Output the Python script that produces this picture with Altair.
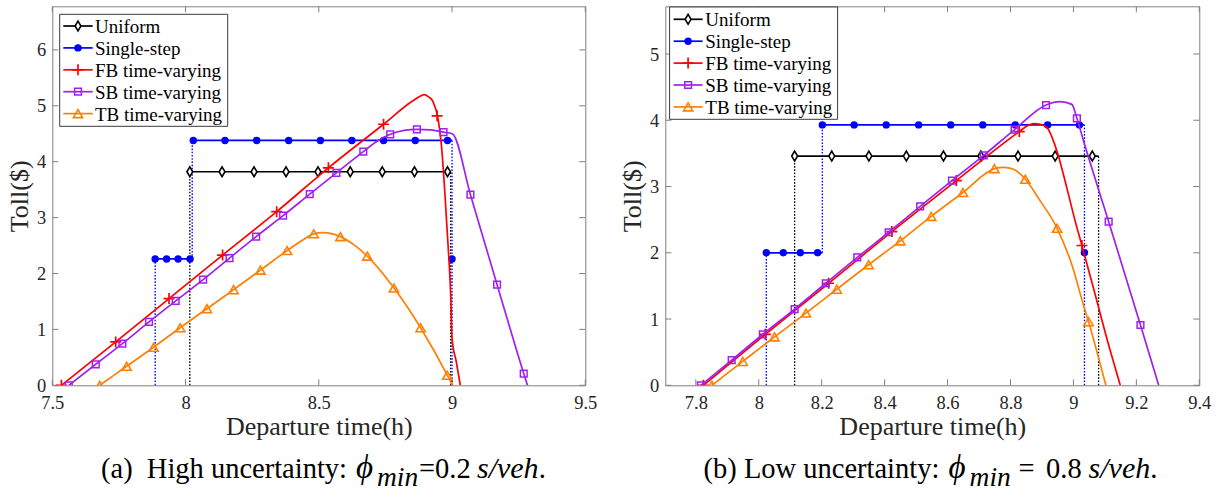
import altair as alt
import pandas as pd

FONT = "Liberation Serif"
NAMES = ["Uniform", "Single-step", "FB time-varying", "SB time-varying", "TB time-varying"]
COLORS = ["#000000", "#0000FF", "#FF0000", "#A020F0", "#FF8000"]

# ---------------- Panel (a): high uncertainty ----------------
a_xticks = [7.5, 8, 8.5, 9, 9.5]
a_yticks = [0, 1, 2, 3, 4, 5, 6]
a_xdomain = [7.5, 9.5]
a_ydomain = [0, 6.78]

a_uni_x = [8.016, 8.995]
a_uni_y = [3.82, 3.82]
a_uni_mx = [8.016, 8.137, 8.257, 8.377, 8.497, 8.618, 8.738, 8.859, 8.983]
a_uni_my = [3.82, 3.82, 3.82, 3.82, 3.82, 3.82, 3.82, 3.82, 3.82]
a_uni_drop_x = [8.016, 8.995]
a_uni_drop_lo = [0, 0]
a_uni_drop_hi = [3.82, 3.82]

a_ss_lo_x = [7.886, 8.025]
a_ss_lo_y = [2.26, 2.26]
a_ss_hi_x = [8.025, 9.0]
a_ss_hi_y = [4.38, 4.38]
a_ss_mx = [7.886, 7.929, 7.972, 8.017, 8.029, 8.148, 8.267, 8.387, 8.506, 8.624, 8.743, 8.862, 8.983, 9.0]
a_ss_my = [2.26, 2.26, 2.26, 2.26, 4.38, 4.38, 4.38, 4.38, 4.38, 4.38, 4.38, 4.38, 4.38, 2.26]
a_ss_drop_x = [7.886, 8.025, 9.0]
a_ss_drop_lo = [0, 2.26, 0]
a_ss_drop_hi = [2.26, 4.38, 4.38]

a_fb_x = [7.534, 7.738, 7.938, 8.139, 8.342, 8.536, 8.743, 8.85, 8.88, 8.895, 8.912, 8.928,
          8.947, 8.960, 8.972, 8.985, 8.995, 9.0, 9.016, 9.031]
a_fb_y = [0, 0.776, 1.552, 2.33, 3.106, 3.89, 4.67, 5.08, 5.17, 5.20, 5.16, 5.08,
          4.78, 4.30, 3.52, 2.51, 1.61, 0.835, 0.42, 0]
a_fb_mx = [7.534, 7.738, 7.938, 8.139, 8.342, 8.536, 8.743, 8.944]
a_fb_my = [0, 0.776, 1.552, 2.33, 3.106, 3.89, 4.67, 4.82]

a_sb_x = [7.562, 7.663, 7.763, 7.863, 7.963, 8.066, 8.165, 8.265, 8.366, 8.466, 8.566, 8.667,
          8.72, 8.768, 8.82, 8.868, 8.92, 8.968, 9.001, 9.069, 9.169, 9.269, 9.283]
a_sb_y = [0, 0.376, 0.746, 1.134, 1.51, 1.89, 2.276, 2.66, 3.035, 3.42, 3.80, 4.18,
          4.37, 4.49, 4.56, 4.58, 4.57, 4.53, 4.50, 3.41, 1.80, 0.21, 0]
a_sb_mx = [7.562, 7.663, 7.763, 7.863, 7.963, 8.066, 8.165, 8.265, 8.366, 8.466, 8.566, 8.667,
           8.768, 8.868, 8.968, 9.069, 9.169, 9.269]
a_sb_my = [0, 0.376, 0.746, 1.134, 1.51, 1.89, 2.276, 2.66, 3.035, 3.42, 3.80, 4.18,
           4.49, 4.58, 4.53, 3.41, 1.80, 0.21]

a_tb_x = [7.678, 7.779, 7.880, 7.980, 8.080, 8.180, 8.281, 8.381, 8.44, 8.481, 8.515, 8.581,
          8.63, 8.682, 8.782, 8.882, 8.982, 9.001]
a_tb_y = [0, 0.34, 0.68, 1.03, 1.37, 1.71, 2.06, 2.41, 2.60, 2.71, 2.73, 2.66,
          2.52, 2.31, 1.74, 1.03, 0.18, 0]
a_tb_mx = [7.678, 7.779, 7.880, 7.980, 8.080, 8.180, 8.281, 8.381, 8.481, 8.581, 8.682, 8.782, 8.882, 8.982]
a_tb_my = [0, 0.34, 0.68, 1.03, 1.37, 1.71, 2.06, 2.41, 2.71, 2.66, 2.31, 1.74, 1.03, 0.18]

# ---------------- Panel (b): low uncertainty ----------------
b_xticks = [7.8, 8, 8.2, 8.4, 8.6, 8.8, 9, 9.2, 9.4]
b_yticks = [0, 1, 2, 3, 4, 5]
b_xdomain = [7.703, 9.4]
b_ydomain = [0, 5.72]

b_uni_x = [8.114, 9.08]
b_uni_y = [3.46, 3.46]
b_uni_mx = [8.114, 8.232, 8.350, 8.469, 8.587, 8.706, 8.824, 8.942, 9.060]
b_uni_my = [3.46, 3.46, 3.46, 3.46, 3.46, 3.46, 3.46, 3.46, 3.46]
b_uni_drop_x = [8.114, 9.08]
b_uni_drop_lo = [0, 0]
b_uni_drop_hi = [3.46, 3.46]

b_ss_lo_x = [8.024, 8.202]
b_ss_lo_y = [2.0, 2.0]
b_ss_hi_x = [8.202, 9.035]
b_ss_hi_y = [3.93, 3.93]
b_ss_mx = [8.024, 8.078, 8.132, 8.187, 8.202, 8.303, 8.405, 8.508, 8.610, 8.712, 8.815, 8.918, 9.019, 9.035]
b_ss_my = [2.0, 2.0, 2.0, 2.0, 3.93, 3.93, 3.93, 3.93, 3.93, 3.93, 3.93, 3.93, 3.93, 2.0]
b_ss_drop_x = [8.024, 8.202, 9.035]
b_ss_drop_lo = [0, 2.0, 0]
b_ss_drop_hi = [2.0, 3.93, 3.93]

b_fb_x = [7.824, 8.021, 8.222, 8.423, 8.628, 8.828, 8.855, 8.873, 8.895, 8.916, 8.948, 8.979,
          9.006, 9.027, 9.064, 9.106, 9.149]
b_fb_y = [0, 0.77, 1.54, 2.32, 3.09, 3.83, 3.92, 3.95, 3.94, 3.89, 3.53, 2.98,
          2.47, 2.11, 1.46, 0.71, 0]
b_fb_mx = [7.824, 8.021, 8.222, 8.423, 8.628, 8.828, 9.027]
b_fb_my = [0, 0.77, 1.54, 2.32, 3.09, 3.83, 2.11]

b_sb_x = [7.816, 7.914, 8.013, 8.114, 8.213, 8.313, 8.413, 8.513, 8.614, 8.715, 8.813, 8.913,
          8.958, 8.995, 9.011, 9.032, 9.112, 9.213, 9.271]
b_sb_y = [0, 0.38, 0.77, 1.15, 1.54, 1.93, 2.31, 2.70, 3.09, 3.47, 3.86, 4.23,
          4.28, 4.24, 4.03, 3.69, 2.47, 0.91, 0]
b_sb_mx = [7.816, 7.914, 8.013, 8.114, 8.213, 8.313, 8.413, 8.513, 8.614, 8.715, 8.813, 8.913,
           9.011, 9.112, 9.213]
b_sb_my = [0, 0.38, 0.77, 1.15, 1.54, 1.93, 2.31, 2.70, 3.09, 3.47, 3.86, 4.23,
           4.03, 2.47, 0.91]

b_tb_x = [7.851, 7.949, 8.050, 8.150, 8.248, 8.349, 8.450, 8.548, 8.649, 8.749, 8.778, 8.81,
          8.847, 8.895, 8.948, 8.995, 9.032, 9.048, 9.103]
b_tb_y = [0, 0.36, 0.73, 1.09, 1.45, 1.82, 2.18, 2.55, 2.91, 3.27, 3.29, 3.26,
          3.11, 2.78, 2.37, 1.82, 1.21, 0.96, 0]
b_tb_mx = [7.851, 7.949, 8.050, 8.150, 8.248, 8.349, 8.450, 8.548, 8.649, 8.749, 8.847, 8.948, 9.048]
b_tb_my = [0, 0.36, 0.73, 1.09, 1.45, 1.82, 2.18, 2.55, 2.91, 3.27, 3.11, 2.37, 0.96]

# caption pieces: (text, style, font size, baseline shift)
CAPTION_A = [("(a)\u00a0 High uncertainty:", "normal", 28.5, 0), ("\u03d5", "italic", 33, 0),
             ("min", "italic", 27.5, 7.3), ("=0.2", "normal", 28.5, 0), ("s/veh", "italic", 30, 0),
             (".", "normal", 28.5, 0)]
CAPTION_B = [("(b) Low uncertainty:", "normal", 28.5, 0), ("\u03d5", "italic", 33, 0),
             ("min", "italic", 27.5, 7.3), ("=", "normal", 28.5, 0), ("0.8", "normal", 28.5, 0),
             ("s/veh", "italic", 30, 0), (".", "normal", 28.5, 0)]

# ---------------- styling ----------------
MARKER = {
    "Uniform": dict(shape="M0,-1L0.6,0L0,1L-0.6,0Z", size=95, filled=True, fill="white",
                    stroke="#000000", strokeWidth=1.6),
    "Single-step": dict(shape="circle", size=55, filled=True, fill="#0000FF", stroke="#0000FF", strokeWidth=0),
    "FB time-varying": dict(shape="M-1,0L1,0M0,-1L0,1", size=120, filled=False, stroke="#FF0000", strokeWidth=1.7),
    "SB time-varying": dict(shape="square", size=45, filled=False, stroke="#A020F0", strokeWidth=1.5),
    "TB time-varying": dict(shape="triangle-up", size=85, filled=False, stroke="#FF8000", strokeWidth=1.6),
}
AXIS_GRAY = "#808080"
TXT = "#262626"
W_A, W_B, H = 533, 534, 379
TICK = 6
ONE = pd.DataFrame({"k": [0]})


def build_panel(P, W, leg, cap, cap_x):
    xs = alt.Scale(domain=P["xdomain"], nice=False, zero=False)
    ys = alt.Scale(domain=P["ydomain"], nice=False, zero=False)
    xaxis = alt.Axis(values=P["xticks"], format="~g", ticks=False, tickSize=0, domain=False, grid=False,
                     labelFont=FONT, labelFontSize=18.5, labelColor=TXT, labelFlush=False, labelOverlap=False,
                     labelPadding=23, labelBaseline="alphabetic",
                     title="Departure time(h)", titleFont=FONT, titleFontSize=26, titleFontWeight="normal",
                     titleColor=TXT, titleBaseline="alphabetic", titleY=49)
    yaxis = alt.Axis(values=P["yticks"], format="~g", ticks=False, tickSize=0, domain=False, grid=False,
                     labelFont=FONT, labelFontSize=18.5, labelColor=TXT, labelPadding=6.5, labelOverlap=False,
                     title="Toll($)", titleFont=FONT, titleFontSize=26, titleFontWeight="normal",
                     titleColor=TXT, titleX=-33, titleBaseline="middle")
    X = lambda f: alt.X(f, scale=xs, axis=xaxis)
    Y = lambda f: alt.Y(f, scale=ys, axis=yaxis)
    layers = []
    # inward ticks on all four sides
    xt = pd.DataFrame({"v": P["xticks"]})
    yt = pd.DataFrame({"v": P["yticks"]})
    rule = dict(color=AXIS_GRAY, strokeWidth=1)
    layers.append(alt.Chart(xt).mark_rule(**rule).encode(x=X("v:Q"), y=alt.value(H), y2=alt.value(H - TICK)))
    layers.append(alt.Chart(xt).mark_rule(**rule).encode(x=X("v:Q"), y=alt.value(0), y2=alt.value(TICK)))
    layers.append(alt.Chart(yt).mark_rule(**rule).encode(y=Y("v:Q"), x=alt.value(0), x2=alt.value(TICK)))
    layers.append(alt.Chart(yt).mark_rule(**rule).encode(y=Y("v:Q"), x=alt.value(W), x2=alt.value(W - TICK)))
    # dotted verticals
    for name, col in (("Uniform", "#000000"), ("Single-step", "#0000FF")):
        dx, dlo, dhi = P["drops"][name]
        ddf = pd.DataFrame({"x": dx, "lo": dlo, "hi": dhi})
        layers.append(alt.Chart(ddf).mark_rule(color=col, strokeWidth=1.3, strokeDash=[1.6, 1.6]).encode(
            x=X("x:Q"), y=Y("lo:Q"), y2="hi:Q"))
    # series lines and markers
    for name, col in zip(NAMES, COLORS):
        segs = P["lines"][name]
        rows = []
        for si, (sx, sy) in enumerate(segs):
            for xv, yv in zip(sx, sy):
                rows.append({"x": xv, "y": yv, "seg": si})
        ldf = pd.DataFrame(rows)
        interp = "linear" if name in ("Uniform", "Single-step") else "monotone"
        layers.append(alt.Chart(ldf).mark_line(color=col, strokeWidth=1.7, interpolate=interp, clip=True).encode(
            x=X("x:Q"), y=Y("y:Q"), detail="seg:N"))
        mx, my = P["marks"][name]
        mdf = pd.DataFrame({"x": mx, "y": my})
        layers.append(alt.Chart(mdf).mark_point(opacity=1, clip=True, **MARKER[name]).encode(
            x=X("x:Q"), y=Y("y:Q")))
    # legend
    bx0, by0, bx1, by1 = leg["box"]
    layers.append(alt.Chart(ONE).mark_rect(fill="white", stroke="#3a3a3a", strokeWidth=1).encode(
        x=alt.value(bx0), x2=alt.value(bx1), y=alt.value(by0), y2=alt.value(by1)))
    for i, (name, col) in enumerate(zip(NAMES, COLORS)):
        yy = leg["y0"] + i * leg["dy"]
        layers.append(alt.Chart(ONE).mark_rule(color=col, strokeWidth=1.7).encode(
            x=alt.value(leg["lx0"]), x2=alt.value(leg["lx1"]), y=alt.value(yy)))
        layers.append(alt.Chart(ONE).mark_point(opacity=1, **MARKER[name]).encode(
            x=alt.value((leg["lx0"] + leg["lx1"]) / 2), y=alt.value(yy)))
        layers.append(alt.Chart(ONE).mark_text(font=FONT, fontSize=19, color="#000000", align="left",
                                               baseline="middle").encode(
            x=alt.value(leg["tx"]), y=alt.value(yy + 1), text=alt.value(name)))
    # caption below the axis title
    for (txt, style, fs, dy), cx in zip(cap, cap_x):
        layers.append(alt.Chart(ONE).mark_text(font=FONT, fontSize=fs, fontStyle=style, color="#000000",
                                               align="left", baseline="alphabetic").encode(
            x=alt.value(cx), y=alt.value(472.2 + dy), text=alt.value(txt)))
    return alt.layer(*layers).properties(width=W, height=H)


PA = {
    "xdomain": a_xdomain, "ydomain": a_ydomain, "xticks": a_xticks, "yticks": a_yticks,
    "drops": {"Uniform": (a_uni_drop_x, a_uni_drop_lo, a_uni_drop_hi),
              "Single-step": (a_ss_drop_x, a_ss_drop_lo, a_ss_drop_hi)},
    "lines": {"Uniform": [(a_uni_x, a_uni_y)],
              "Single-step": [(a_ss_lo_x, a_ss_lo_y), (a_ss_hi_x, a_ss_hi_y)],
              "FB time-varying": [(a_fb_x, a_fb_y)],
              "SB time-varying": [(a_sb_x, a_sb_y)],
              "TB time-varying": [(a_tb_x, a_tb_y)]},
    "marks": {"Uniform": (a_uni_mx, a_uni_my), "Single-step": (a_ss_mx, a_ss_my),
              "FB time-varying": (a_fb_mx, a_fb_my), "SB time-varying": (a_sb_mx, a_sb_my),
              "TB time-varying": (a_tb_mx, a_tb_my)},
}
PB = {
    "xdomain": b_xdomain, "ydomain": b_ydomain, "xticks": b_xticks, "yticks": b_yticks,
    "drops": {"Uniform": (b_uni_drop_x, b_uni_drop_lo, b_uni_drop_hi),
              "Single-step": (b_ss_drop_x, b_ss_drop_lo, b_ss_drop_hi)},
    "lines": {"Uniform": [(b_uni_x, b_uni_y)],
              "Single-step": [(b_ss_lo_x, b_ss_lo_y), (b_ss_hi_x, b_ss_hi_y)],
              "FB time-varying": [(b_fb_x, b_fb_y)],
              "SB time-varying": [(b_sb_x, b_sb_y)],
              "TB time-varying": [(b_tb_x, b_tb_y)]},
    "marks": {"Uniform": (b_uni_mx, b_uni_my), "Single-step": (b_ss_mx, b_ss_my),
              "FB time-varying": (b_fb_mx, b_fb_my), "SB time-varying": (b_sb_mx, b_sb_my),
              "TB time-varying": (b_tb_mx, b_tb_my)},
}

LEG_A = {"box": (7.4, 8, 175.4, 120), "y0": 19.7, "dy": 21.9, "lx0": 11, "lx1": 40.4, "tx": 42.7}
LEG_B = {"box": (4.3, 0.7, 172.3, 113), "y0": 13, "dy": 21.9, "lx0": 8.3, "lx1": 37.3, "tx": 40}

# caption piece start positions (page pixels), converted to panel coordinates
SVEH_W = 2.055 * 30  # advance of italic "s/veh" at 30px (Times metrics)
CAPX_A = [v - 51.3 for v in (100, 355, 376, 418, 476, 476 + SVEH_W)]
CAPX_B = [v - 661.7 for v in (700, 945, 966, 1015, 1042.5, 1085, 1085 + SVEH_W)]

left = build_panel(PA, W_A, LEG_A, CAPTION_A, CAPX_A)
right = build_panel(PB, W_B, LEG_B, CAPTION_B, CAPX_B)

chart = alt.hconcat(left, right, spacing=20).properties(
    padding={"left": 5.3, "top": 5.3, "right": 0, "bottom": 0},
    background="white",
).configure_view(stroke=AXIS_GRAY, strokeWidth=1)

chart.save("out.html", embed_options={"renderer": "svg", "actions": False})
